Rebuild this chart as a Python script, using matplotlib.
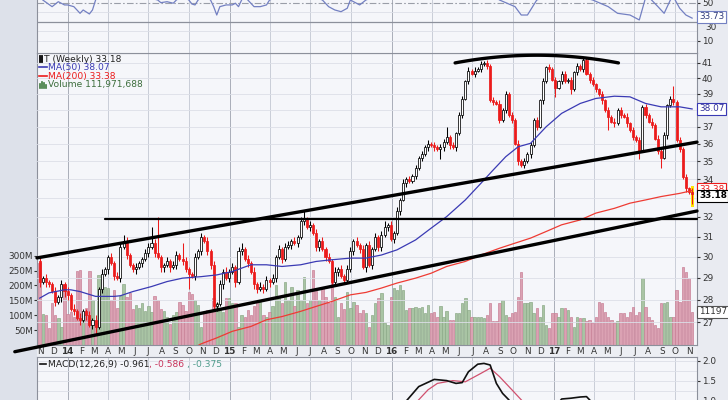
import numpy as np
import pandas as pd
import matplotlib
matplotlib.use("Agg")
import matplotlib.pyplot as plt
import matplotlib.dates as mdates
from matplotlib.lines import Line2D
from matplotlib.ticker import FixedLocator, NullLocator, NullFormatter, FuncFormatter

# ------------------------------------------------------------
# DATA (weekly)
# ------------------------------------------------------------
first_week = "2013-10-30"
first_open = 29.8

closes = [
    28.8, 29.0, 28.8, 28.7, 28.4, 27.9, 28.1, 28.7, 28.4, 28.2,
    27.6, 27.5, 27.2, 27.1, 27.5, 27.3, 26.9, 27.1, 26.8, 28.5,
    29.2, 29.4, 30.0, 29.7, 29.1, 29.0, 30.5, 30.8, 30.1, 29.6,
    29.4, 29.5, 29.7, 29.9, 30.2, 30.5, 30.7, 30.2, 30.0, 29.5,
    29.6, 29.8, 29.5, 29.6, 30.1, 29.9, 29.8, 29.4, 29.2, 29.1,
    30.0, 30.3, 31.0, 30.8, 30.3, 29.6, 27.7, 27.8, 28.7, 29.3,
    29.0, 29.3, 29.5, 28.8, 30.3, 30.4, 29.9, 29.7, 29.3, 28.7,
    28.5, 28.6, 28.5, 28.9, 28.8, 29.0, 30.0, 30.4, 29.9, 30.5,
    30.6, 30.8, 30.7, 31.0, 31.8, 31.9, 31.5, 31.6, 31.2, 30.5,
    30.8, 30.4, 30.0, 29.8, 28.8, 29.3, 29.4, 29.1, 28.9, 29.4,
    30.3, 30.8, 30.6, 30.4, 29.5, 30.6, 29.6, 30.4, 31.0, 30.5,
    31.1, 31.5, 31.6, 30.9, 31.2, 32.3, 32.9, 33.8, 34.0, 33.9,
    34.2, 34.6, 35.2, 35.4, 35.8, 36.0, 35.9, 35.8, 35.7, 35.8,
    36.1, 36.4, 35.9, 35.8, 36.6, 37.7, 38.7, 39.8, 40.5, 40.3,
    40.5, 40.6, 40.9, 41.0, 40.8, 38.6, 38.5, 38.4, 37.4, 38.0,
    39.0, 37.7, 37.4, 36.0, 35.0, 34.8, 35.0, 35.4, 35.9, 37.4,
    37.0, 38.6, 39.8, 40.7, 40.6, 39.9, 39.4, 39.8, 40.3, 39.8,
    39.9, 39.3, 40.4, 40.8, 40.6, 41.2, 40.3, 39.9, 39.6, 39.3,
    39.0, 38.6, 38.0, 37.6, 37.3, 37.2, 38.0, 37.7, 37.6, 37.2,
    36.8, 36.4, 36.2, 35.6, 38.2, 37.7, 37.3, 37.1, 36.3, 35.6,
    35.2, 36.5, 38.3, 38.7, 38.5, 36.2, 35.7, 34.1, 33.5, 33.3,
    33.18,
]

# wick lengths above / below the body, in tenths of a dollar (base-36 digits)
wick_up = ("2121121212" "1212112121" "2112122321" "12112282i1" "1212218211"
           "2121212121" "2121231212" "1212121212" "2121241212" "1212121212"
           "2121212121" "2312121212" "1212121212" "2612122121" "2121212121"
           "2121212121" "2121212122" "1212122121" "1212121212" "1212121212"
           "1212812121" "2")
wick_dn = ("2121121232" "1212121231" "2121212121" "1212121212" "2121212171"
           "2121221212" "1212121212" "2121212121" "1212121212" "2121212121"
           "1212121212" "2121212121" "1212121216" "2121212121" "2121212121"
           "2121212121" "2121216121" "1312121212" "1218121212" "1215121212"
           "6121212121" "5")

# weekly volume, millions
volumes = [
    274, 103, 100, 56, 140, 100, 90, 62, 200, 105,
    110, 95, 250, 252, 100, 125, 250, 150, 80, 235,
    230, 196, 190, 150, 185, 125, 165, 206, 160, 175,
    120, 135, 125, 140, 115, 130, 110, 165, 150, 120,
    115, 95, 70, 100, 110, 145, 135, 115, 178, 170,
    150, 134, 62, 106, 118, 118, 157, 140, 120, 110,
    157, 157, 140, 140, 62, 100, 95, 118, 100, 130,
    146, 146, 100, 95, 110, 130, 201, 160, 140, 213,
    150, 196, 130, 185, 150, 230, 140, 150, 252, 180,
    150, 190, 160, 140, 218, 162, 95, 140, 120, 179,
    123, 146, 134, 106, 118, 106, 62, 101, 140, 157,
    174, 73, 67, 162, 190, 185, 202, 185, 118, 123,
    123, 129, 125, 129, 106, 134, 106, 112, 95, 131,
    95, 115, 84, 84, 106, 106, 140, 157, 118, 95,
    95, 95, 95, 90, 100, 140, 82, 82, 140, 151,
    101, 95, 106, 112, 162, 246, 140, 140, 145, 106,
    123, 95, 134, 67, 56, 106, 106, 95, 123, 123,
    118, 95, 62, 95, 90, 90, 79, 84, 73, 95,
    146, 140, 112, 95, 84, 73, 79, 106, 106, 95,
    112, 129, 100, 110, 224, 129, 95, 84, 67, 56,
    140, 140, 143, 95, 95, 185, 146, 263, 246, 224,
    112,
]

# moving averages (week index, value)
ma50_idx = [0, 3, 8, 10, 13, 18, 24, 26, 30, 36, 41, 46, 52, 57, 62, 68, 73, 78, 84, 89,
            94, 100, 105, 110, 115, 121, 126, 131, 137, 142, 146, 150, 154, 158, 163,
            168, 174, 179, 185, 190, 195, 200, 206, 210]
ma50_val = [28.07, 28.31, 28.45, 28.45, 28.37, 28.15, 28.15, 28.18, 28.37, 28.60, 28.83,
            28.99, 29.06, 29.14, 29.30, 29.62, 29.62, 29.54, 29.62, 29.78, 29.86, 29.94,
            29.94, 30.09, 30.34, 30.83, 31.42, 32.01, 32.88, 33.77, 34.51, 35.25, 35.82,
            36.02, 36.99, 37.80, 38.41, 38.72, 38.86, 38.82, 38.41, 38.20, 38.20, 38.07]
ma200_idx = [48, 52, 57, 62, 68, 73, 78, 84, 89, 94, 100, 105, 110, 115, 121, 126, 131,
             137, 142, 148, 153, 158, 163, 168, 174, 179, 185, 190, 195, 200, 206, 210]
ma200_val = [25.80, 26.08, 26.33, 26.61, 26.82, 27.11, 27.25, 27.48, 27.70, 27.92, 28.22,
             28.33, 28.53, 28.76, 28.99, 29.22, 29.54, 29.78, 30.09, 30.42, 30.67, 30.92,
             31.25, 31.59, 31.84, 32.19, 32.44, 32.71, 32.88, 33.06, 33.23, 33.38]

# RSI (only the part under the top edge is visible)
rsi_idx = [0, 1, 4, 6, 8, 9, 11, 13, 14, 16, 17, 18, 20, 26, 32, 38, 39, 41, 43, 44, 46,
           48, 49, 50, 51, 53, 55, 56, 57, 58, 60, 62, 63, 64, 65, 66, 67, 69, 71, 73, 74,
           80, 87, 91, 93, 95, 97, 99, 100, 103, 105, 115, 130, 140, 148, 153, 155, 157,
           160, 168, 178, 183, 186, 190, 193, 195, 196, 199, 201, 203, 204, 206, 208, 210]
rsi_val = [60, 52.8, 45.8, 51, 47.6, 47.6, 45.8, 38.8, 42.3, 38.1, 42.3, 52.8, 62, 60, 58,
           52.8, 50, 51, 49.4, 52.8, 57, 52.8, 48.6, 47.6, 52.8, 57, 52.8, 45.8, 37, 45.8,
           47.6, 47.6, 49.4, 45.8, 52.8, 56, 52.8, 45.8, 45.8, 47.6, 52.8, 60, 58, 52.8,
           45.8, 42.3, 40.5, 44.1, 52.8, 47.6, 52.8, 65, 70, 72, 52.8, 45.8, 37, 37, 52.8,
           62, 52.8, 45.8, 38.8, 37, 31.8, 55, 56, 45.8, 38.8, 52.8, 56, 44.1, 37, 33.73]

# MACD (only the top of the panel is visible)
macd_idx = [115, 118, 122, 127, 131, 134, 136, 138, 141, 143, 145, 147, 149, 151, 153,
            160, 166, 168, 171, 174, 176, 177, 179, 185]
macd_val = [0.55, 1.00, 1.36, 1.54, 1.51, 1.44, 1.46, 1.73, 1.92, 1.94, 1.90, 1.44, 1.19,
            1.03, 0.80, 0.50, 0.85, 1.05, 1.07, 1.10, 1.11, 1.03, 0.85, 0.40]
signal_idx = [118, 122, 125, 128, 133, 137, 142, 145, 148, 152, 155, 160]
signal_val = [0.70, 1.03, 1.28, 1.44, 1.51, 1.48, 1.69, 1.82, 1.61, 1.28, 1.03, 0.60]

# hand drawn trendlines (date, price)
upper_line = (["2013-10-24", "2017-11-19"], [29.95, 36.09])
lower_line = (["2013-09-04", "2017-11-19"], [25.75, 32.30])
flat_line = (["2014-03-26", "2017-11-19"], [31.90, 31.90])
top_arc = (["2016-05-23", "2016-12-01", "2017-05-26"], [41.0, 41.51, 41.0])

# price labels hidden behind the value tags on the right
price_ticks = [27, 28, 29, 30, 31, 32, 34, 35, 36, 37, 39, 40, 41]

# ------------------------------------------------------------
# LAYOUT
# ------------------------------------------------------------
W, H = 728, 400
BG = "#f5f6fa"
MARGIN = "#dde1ea"
GRID = "#dcdfe8"
QGRID = "#c9cdd7"
YGRID = "#a9adb8"
SPINE = "#8c909b"
RED = "#ec1b1b"
TXT = "#333333"
FS = 6.4


def pos(left, top, width, height):
    return [left / W, 1 - (top + height) / H, width / W, height / H]


fig = plt.figure(figsize=(W / 100, H / 100), dpi=100)
fig.patch.set_facecolor("#e9ebf1")
fig.add_artist(plt.Rectangle((0, 0), 37 / W, 1, transform=fig.transFigure,
                             facecolor=MARGIN, edgecolor="none", zorder=-5))

dates = pd.date_range(first_week, periods=len(closes), freq="7D")
xd = mdates.date2num(dates)
xlo = mdates.date2num(pd.Timestamp("2013-10-24"))
xhi = mdates.date2num(pd.Timestamp("2017-11-19"))

quarters = pd.date_range("2014-01-01", "2017-10-01", freq="QS")
months = pd.date_range("2013-11-01", "2017-11-01", freq="MS")

ax_strip = fig.add_axes(pos(37, 345, 660, 12), zorder=0)
ax_v = fig.add_axes(pos(37, 53.3, 660, 291.7), zorder=1)
ax = fig.add_axes(pos(37, 53.3, 660, 291.7), zorder=2)
ax_rsi = fig.add_axes(pos(37, -40, 660, 93.3), zorder=1)
ax_macd = fig.add_axes(pos(37, 357, 660, 63), zorder=1)

for a in (ax_strip, ax_v, ax, ax_rsi, ax_macd):
    a.set_xlim(xlo, xhi)
    a.set_xticks([])
    for s in a.spines.values():
        s.set_color(SPINE)
        s.set_linewidth(0.8)


def vgrid(a):
    for q in quarters:
        col = YGRID if q.month == 1 else QGRID
        a.axvline(mdates.date2num(q), color=col, lw=0.7, zorder=0)


# ------------------------------------------------------------
# VOLUME (background of the price panel)
# ------------------------------------------------------------
c = np.array(closes)
o = np.array([first_open] + closes[:-1])
up = c >= o
up_w = np.array([int(ch, 36) for ch in wick_up]) / 10
dn_w = np.array([int(ch, 36) for ch in wick_dn]) / 10
hi = np.maximum(o, c) + up_w
lo = np.minimum(o, c) - dn_w

ax_v.set_facecolor(BG)
vgrid(ax_v)
ax_v.bar(xd, volumes, width=5.4,
         color=np.where(up, "#a9c4a4", "#dba2b3"),
         edgecolor=np.where(up, "#8daa88", "#c98197"), linewidth=0.5, zorder=2)
ax_v.set_ylim(0, 980)
ax_v.yaxis.set_ticks_position("left")
ax_v.set_yticks([50, 100, 150, 200, 250, 300])
ax_v.set_yticklabels([f"{v}M" for v in [50, 100, 150, 200, 250, 300]])
ax_v.tick_params(axis="y", length=2, pad=1, labelsize=FS, colors=TXT)

# ------------------------------------------------------------
# PRICE
# ------------------------------------------------------------
ax.patch.set_visible(False)
for s in ax.spines.values():
    s.set_visible(False)
ax.set_yscale("log")
ax.set_ylim(26.03, 41.64)
ax.yaxis.set_major_locator(FixedLocator(price_ticks))
ax.yaxis.set_minor_locator(NullLocator())
ax.yaxis.set_minor_formatter(NullFormatter())
ax.yaxis.set_major_formatter(FuncFormatter(lambda v, p: f"{v:.0f}"))
ax.yaxis.tick_right()
ax.tick_params(axis="y", length=2, pad=1.5, labelsize=FS, colors=TXT)
for p in range(27, 42):
    ax.axhline(p, color=GRID, lw=0.6, zorder=0.5)

ax.vlines(xd, lo, hi, colors=np.where(up, "black", RED), linewidth=0.75, zorder=3)
ax.bar(xd, np.maximum(np.abs(c - o), 0.04), bottom=np.minimum(o, c), width=4.6,
       color=np.where(up, "white", RED), edgecolor=np.where(up, "black", RED),
       linewidth=0.55, zorder=4)

# highlight of the current week
ax.bar(xd[-1], hi[-1] - lo[-1] + 0.3, bottom=lo[-1] - 0.15, width=7, color="#ffe600",
       edgecolor="none", zorder=2.5)

ax.plot(xd[ma50_idx], ma50_val, color="#3a3ab4", lw=0.9, zorder=5)
ax.plot(xd[ma200_idx], ma200_val, color="#ee3b33", lw=0.9, zorder=5)

for (dd, pp), lw in ((upper_line, 2.4), (lower_line, 2.4), (flat_line, 1.6)):
    ax.plot(mdates.date2num(pd.to_datetime(dd)), pp, color="black", lw=lw,
            solid_capstyle="round", clip_on=False, zorder=6)

arc_x = mdates.date2num(pd.to_datetime(top_arc[0]))
coef = np.polyfit(arc_x, np.log(top_arc[1]), 2)
ax_arc = np.linspace(arc_x[0], arc_x[-1], 80)
ax.plot(ax_arc, np.exp(np.polyval(coef, ax_arc)), color="black", lw=2.4,
        solid_capstyle="round", clip_on=False, zorder=6)


def tag(a, y, text, color, edge, weight="normal"):
    a.text(1.003, y, text, transform=a.get_yaxis_transform(), ha="left", va="center",
           fontsize=FS, color=color, fontweight=weight, zorder=10, clip_on=False,
           bbox=dict(boxstyle="square,pad=0.18", facecolor="white", edgecolor=edge,
                     linewidth=0.8))


tag(ax, 38.07, "38.07", "#2f2f9a", "#3a3ab4")
tag(ax, 33.45, "33.38", RED, RED)
tag(ax, 33.1, "33.18", "black", "black", "bold")
tag(ax_v, 112, "111971688", TXT, "#555555")

# legend of the price panel
def ftxt(x, y, s, color, **kw):
    fig.text(x / W, 1 - y / H, s, color=color, fontsize=6.6, ha="left", va="center", **kw)


def fline(x0, x1, y, color, lw=1.2):
    fig.add_artist(Line2D([x0 / W, x1 / W], [1 - y / H, 1 - y / H], color=color, lw=lw,
                          transform=fig.transFigure, zorder=20))


for xx in (39.5, 41.5):
    fig.add_artist(Line2D([xx / W, xx / W], [1 - 62 / H, 1 - 56 / H], color="black",
                          lw=1.3, transform=fig.transFigure, zorder=20))
ftxt(43.5, 59, "T (Weekly) 33.18", "#222222")
fline(39, 47, 67.3, "#3a3ab4")
ftxt(47.5, 67.3, "MA(50) 38.07", "#3a3ab4")
fline(39, 47, 76, RED)
ftxt(47.5, 76, "MA(200) 33.38", RED)
for xx, h in ((39.5, 4), (41.5, 6), (43.5, 5), (45.5, 3)):
    fig.add_artist(Line2D([xx / W, xx / W], [1 - 87.5 / H, 1 - (87.5 - h) / H],
                          color="#3d7a3d", lw=1.2, transform=fig.transFigure, zorder=20))
ftxt(47.5, 85, "Volume 111,971,688", "#3d6e3d")

# ------------------------------------------------------------
# DATE STRIP
# ------------------------------------------------------------
ax_strip.set_facecolor("#eceef3")
ax_strip.set_yticks([])
for s in ax_strip.spines.values():
    s.set_visible(False)
for m in months:
    if m.month == 1:
        lab, wt = m.strftime("%y"), "bold"
    else:
        lab, wt = "JFMAMJJASOND"[m.month - 1], "normal"
    ax_strip.text(mdates.date2num(m), 0.42, lab, ha="center", va="center",
                  fontsize=FS, fontweight=wt, color=TXT,
                  transform=ax_strip.get_xaxis_transform())

# ------------------------------------------------------------
# RSI PANEL (top, cut by the image edge)
# ------------------------------------------------------------
ax_rsi.set_facecolor(BG)
ax_rsi.spines["top"].set_visible(False)
vgrid(ax_rsi)
for g in (10, 20, 40):
    ax_rsi.axhline(g, color=GRID, lw=0.6, zorder=0.5)
ax_rsi.axhline(50, color="#9a9ea8", lw=0.8, ls=(0, (6, 2, 1.5, 2)), zorder=1)
ax_rsi.axhline(30, color=SPINE, lw=0.9, zorder=1)
ax_rsi.plot(xd[rsi_idx], rsi_val, color="#7380c2", lw=0.9, zorder=3)
ax_rsi.set_ylim(-3.3, 94.9)
ax_rsi.yaxis.tick_right()
ax_rsi.set_yticks([10, 50])
ax_rsi.tick_params(axis="y", length=2, pad=1.5, labelsize=FS, colors=TXT)
tag(ax_rsi, 35.2, "33.73", "#2f3a7a", "#7380c2")
ax_rsi.text(1.012, 28.5, "30", transform=ax_rsi.get_yaxis_transform(), ha="left",
            va="top", fontsize=FS, color=TXT, clip_on=False, zorder=9)

# ------------------------------------------------------------
# MACD PANEL (bottom, cut by the image edge)
# ------------------------------------------------------------
ax_macd.set_facecolor(BG)
vgrid(ax_macd)
for g in (1.0, 1.25, 1.5, 1.75, 2.0):
    ax_macd.axhline(g, color=GRID, lw=0.6, zorder=0.5)
ax_macd.plot(xd[signal_idx], signal_val, color="#d0506e", lw=0.9, zorder=3)
ax_macd.plot(xd[macd_idx], macd_val, color="#111111", lw=1.2, zorder=4)
ax_macd.set_ylim(0.525, 2.1)
ax_macd.yaxis.tick_right()
ax_macd.set_yticks([1.0, 1.5, 2.0])
ax_macd.set_yticklabels(["1.0", "1.5", "2.0"])
ax_macd.tick_params(axis="y", length=2, pad=1.5, labelsize=FS, colors=TXT)

fline(40, 46, 364, "#111111")
ftxt(48.5, 364, "MACD(12,26,9) -0.961", "#222222")
ftxt(149, 364, ", -0.586", "#c8325a")
ftxt(187, 364, ", -0.375", "#4f9c8c")

fig.savefig("out.png", dpi=100, facecolor=fig.get_facecolor())
